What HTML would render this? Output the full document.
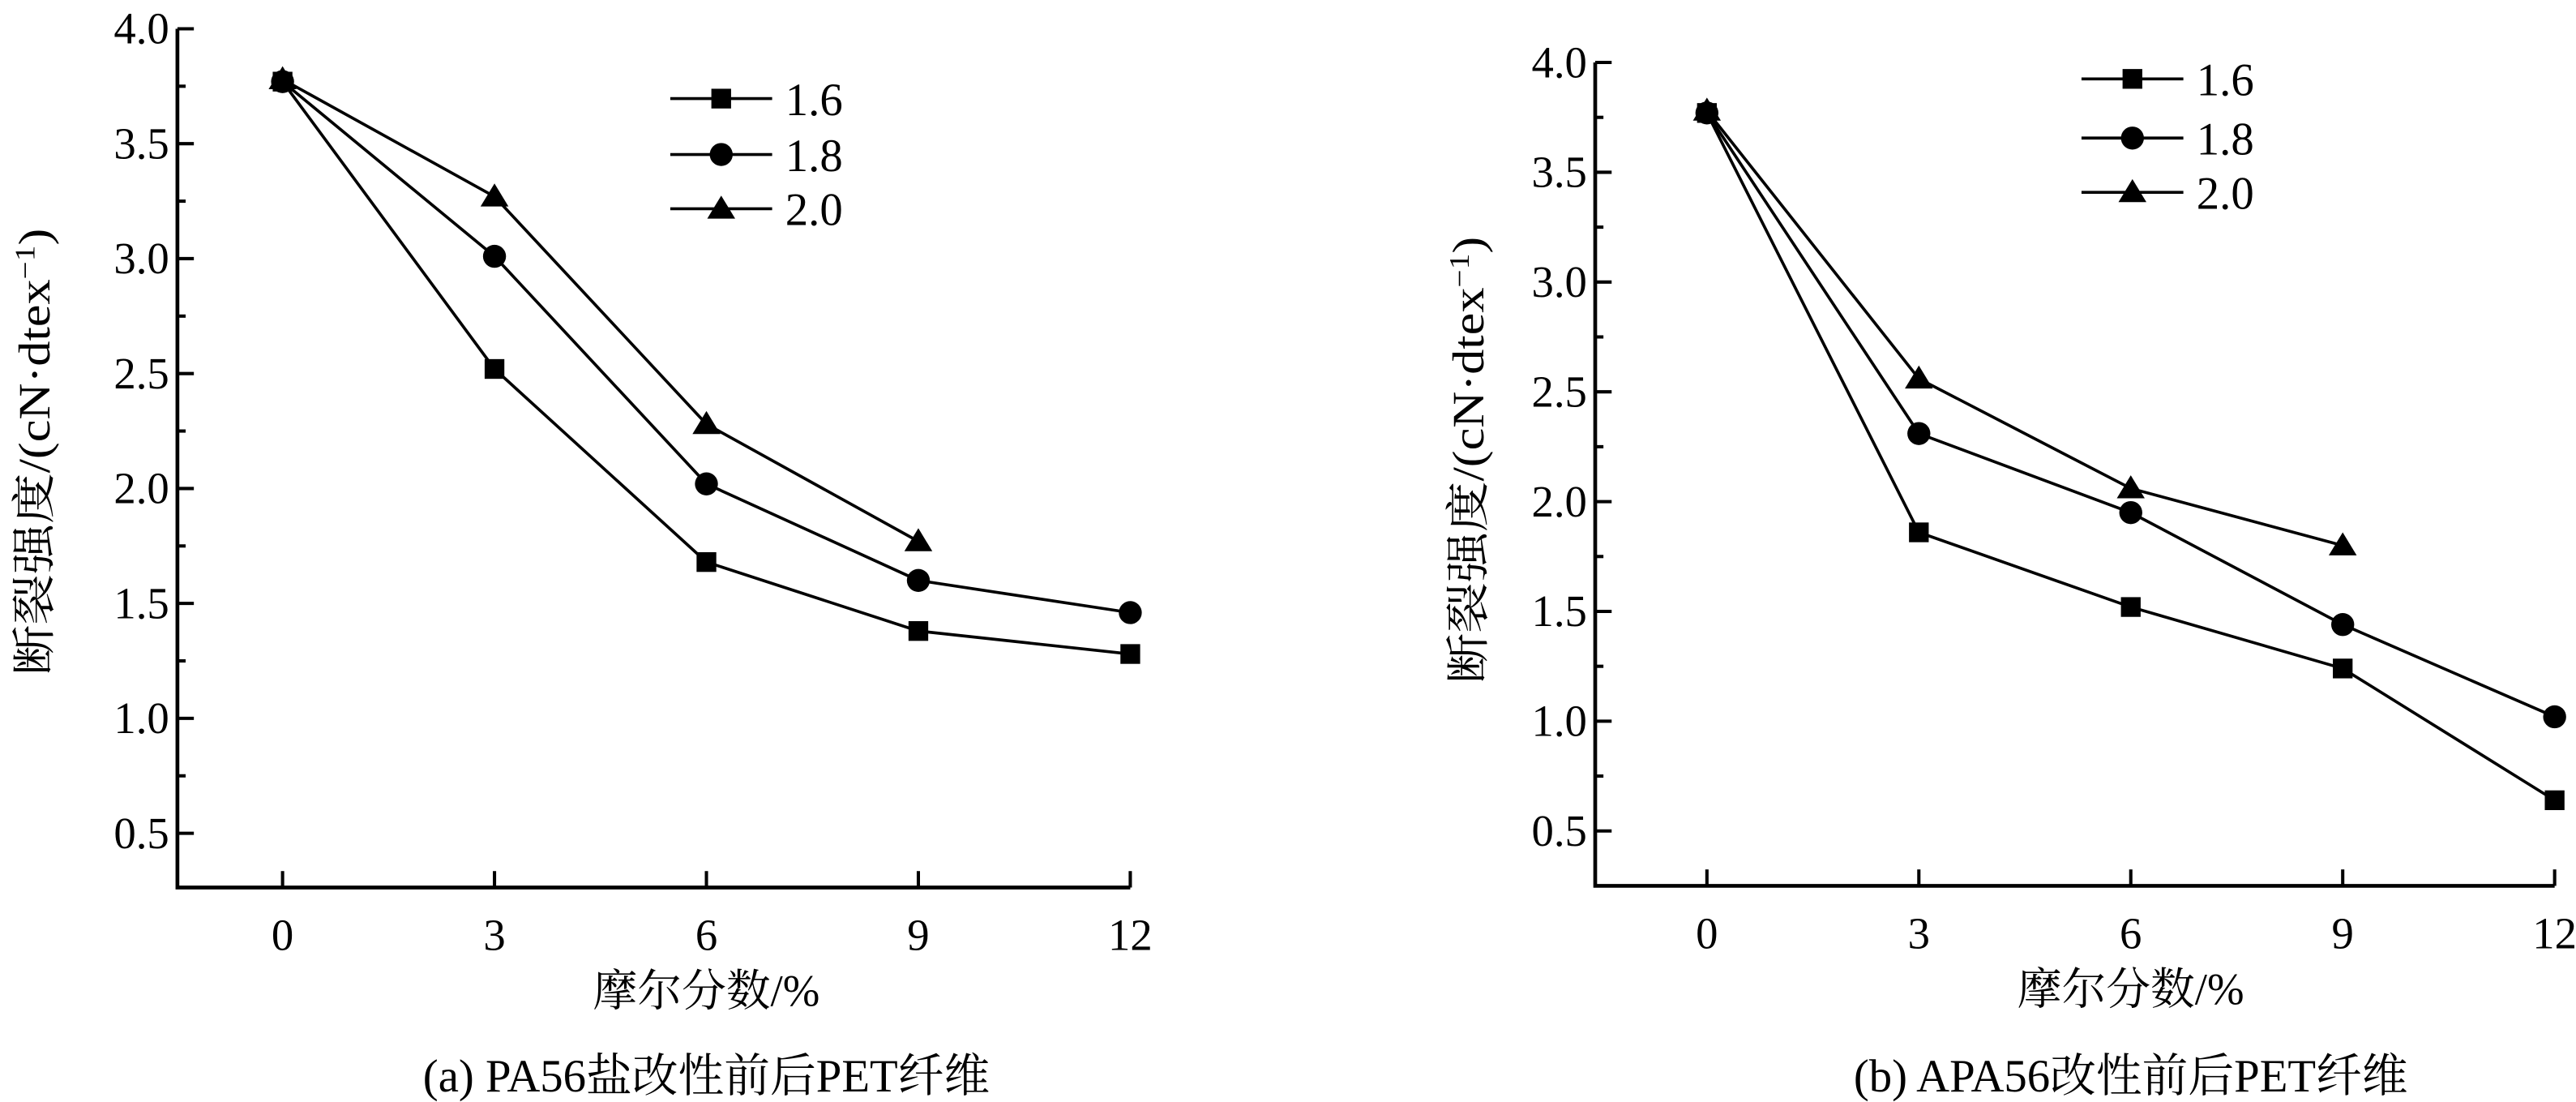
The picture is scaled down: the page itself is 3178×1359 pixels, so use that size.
<!DOCTYPE html>
<html><head><meta charset="utf-8"><style>
html,body{margin:0;padding:0;background:#fff;}
svg{display:block;}
</style></head><body>
<svg width="3178" height="1359" viewBox="0 0 1568 670.5" preserveAspectRatio="none" xmlns="http://www.w3.org/2000/svg" font-family="'Liberation Serif', 'Times New Roman', 'Noto Serif CJK SC', serif">
<g id="L"></g>
<g id="R"></g>
</svg>
<script>
const FF="'Liberation Serif', 'Times New Roman', 'Noto Serif CJK SC', serif";
function build(g, o){
  const ns="http://www.w3.org/2000/svg";
  function el(t,a,txt){const e=document.createElementNS(ns,t);for(const k in a)e.setAttribute(k,a[k]);if(t==='text')e.setAttribute('font-family',FF);if(txt!==undefined)e.textContent=txt;g.appendChild(e);return e;}
  const X=v=>o.x0+v*o.dx, Y=v=>o.y4+(4-v)/0.5*o.dy;
  el('path',{d:`M${o.ax},${Y(4)} V${o.by} H${X(12)}`,fill:'none',stroke:'#000','stroke-width':2.3});
  for(let v=4;v>0.3;v-=0.25){const maj=Math.abs(v*2-Math.round(v*2))<1e-6;
    el('line',{x1:o.ax,x2:o.ax+(maj?10:5),y1:Y(v),y2:Y(v),stroke:'#000','stroke-width':2});
    if(maj)el('text',{x:o.ax-5,y:Y(v)+9,'text-anchor':'end','font-size':27},v.toFixed(1));}
  for(const v of [0,3,6,9,12]){el('line',{x1:X(v),x2:X(v),y1:o.by,y2:o.by-10,stroke:'#000','stroke-width':2});
    el('text',{x:X(v),y:o.by+38,'text-anchor':'middle','font-size':27},v);}
  const xs=[0,3,6,9,12];
  o.data.forEach((d,i)=>{
    const pts=d.map((v,j)=>[X(xs[j]),Y(v)]);
    el('polyline',{points:pts.map(p=>p.join(',')).join(' '),fill:'none',stroke:'#000','stroke-width':1.8});
    pts.forEach(p=>marker(i,p[0],p[1]));
  });
  function marker(i,x,y){
    if(i==0)el('rect',{x:x-6,y:y-6,width:12,height:12,fill:'#000'});
    else if(i==1)el('circle',{cx:x,cy:y,r:7,fill:'#000'});
    else el('path',{d:`M${x},${y-8} L${x+8.5},${y+6} L${x-8.5},${y+6} Z`,fill:'#000'});
  }
  const labs=['1.6','1.8','2.0'];
  o.leg.forEach((ly,i)=>{
    el('line',{x1:o.lx,x2:o.lx+62,y1:ly,y2:ly,stroke:'#000','stroke-width':1.8});
    marker(i,o.lx+31,ly);
    el('text',{x:o.lx+70,y:ly+10,'font-size':28},labs[i]);
  });
  const t=el('text',{x:0,y:0,'text-anchor':'middle','font-size':27,textLength:272,lengthAdjust:'spacingAndGlyphs',transform:`translate(${o.ylx},${o.yly}) rotate(-90)`});
  t.innerHTML='断裂强度/(cN·dtex<tspan dy="-9" font-size="17">−1</tspan><tspan dy="9">)</tspan>';
  el('text',{x:X(6),y:o.by+72,'text-anchor':'middle','font-size':27},'摩尔分数/%');
  el('text',{x:X(6),y:664,'text-anchor':'middle','font-size':28},o.cap);
}
build(document.getElementById('L'),{x0:172,dx:43,ax:108,y4:17.5,dy:69.93,by:540,
 data:[[3.77,2.52,1.68,1.38,1.28],[3.77,3.01,2.02,1.60,1.46],[3.78,3.27,2.28,1.77]],
 leg:[60,94,127],lx:408,ylx:30,yly:275,cap:'(a) PA56盐改性前后PET纤维'});
build(document.getElementById('R'),{x0:1039,dx:43,ax:971,y4:38,dy:66.8,by:539,
 data:[[3.77,1.86,1.52,1.24,0.64],[3.77,2.31,1.95,1.44,1.02],[3.78,2.56,2.06,1.80]],
 leg:[48,84,117],lx:1267,ylx:903,yly:280,cap:'(b) APA56改性前后PET纤维'});
</script>
</body></html>
